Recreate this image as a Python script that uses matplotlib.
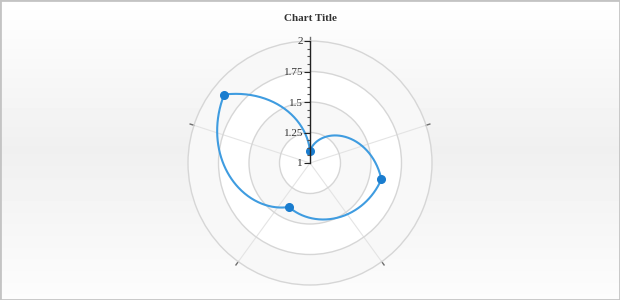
import numpy as np
import matplotlib
matplotlib.use("Agg")
import matplotlib.pyplot as plt
from matplotlib.patches import Rectangle
from matplotlib.ticker import MultipleLocator

# datos de la serie
x_vals = [0, 1, 2, 3]
y_vals = [1.1, 1.6, 1.4, 1.9]
x_max = 3.5                      # una vuelta completa de la escala angular
x_ticks = [0, 0.7, 1.4, 2.1, 2.8]
r_ticks = [1, 1.25, 1.5, 1.75, 2]
r_labels = ['1', '1.25', '1.5', '1.75', '2']
title = 'Chart Title'

plt.rcParams['font.family'] = ['Liberation Serif', 'DejaVu Serif']

W, H = 620, 300
cx, cy, R = 310, 163, 122

fig = plt.figure(figsize=(W / 100, H / 100), dpi=100)

# fondo con degradado y borde
bg = fig.add_axes([0, 0, 1, 1], zorder=-10)
grad = np.interp(np.linspace(0, 1, 300), [0, 0.5, 1], [1.0, 0.94, 0.99])
bg.imshow(grad[:, None], aspect='auto', cmap='gray', vmin=0, vmax=1,
          extent=[0, 1, 0, 1])
bg.add_patch(Rectangle((0, 0), 1, 1, fill=False, edgecolor='#c4c4c4', lw=2,
                       transform=bg.transAxes))
bg.set_xlim(0, 1)
bg.set_ylim(0, 1)
bg.axis('off')

# eje polar
ax = fig.add_axes([(cx - R) / W, (H - cy - R) / H, 2 * R / W, 2 * R / H],
                  projection='polar')
ax.set_theta_zero_location('N')
ax.set_theta_direction(-1)
ax.set_ylim(r_ticks[0], r_ticks[-1])
ax.set_facecolor('white')
ax.set_axisbelow(True)

# bandas alternas
for i, (lo, hi) in enumerate(zip(r_ticks[:-1], r_ticks[1:])):
    ax.bar(0, hi - lo, width=2 * np.pi, bottom=lo,
           color='white' if i % 2 == 0 else '#f8f8f8', edgecolor='none', zorder=0)

theta_ticks = np.array(x_ticks) / x_max * 2 * np.pi
ax.set_xticks(theta_ticks)
ax.set_xticklabels([])
ax.set_yticks(r_ticks[1:-1])
ax.set_yticklabels([])
ax.xaxis.grid(True, color='#e4e4e4', lw=0.8)
ax.yaxis.grid(True, color='#d6d6d6', lw=1)
ax.tick_params(axis='both', length=0)
ax.spines['polar'].set_color('#d6d6d6')
ax.spines['polar'].set_linewidth(1)

# marcas del eje angular, hacia fuera del círculo exterior
tick_len = 4 / R * (r_ticks[-1] - r_ticks[0])
for t in theta_ticks:
    ax.plot([t, t], [r_ticks[-1], r_ticks[-1] + tick_len], color='#6e6e6e',
            lw=1, clip_on=False, zorder=2)

# serie: tramos lineales en coordenadas polares
theta = np.array(x_vals + [x_max]) / x_max * 2 * np.pi
r = np.array(y_vals + [y_vals[0]])
t_fine = np.linspace(0, 2 * np.pi, 721)
ax.plot(t_fine, np.interp(t_fine, theta, r), color='#3f9ce0', lw=1.5, zorder=3)
ax.plot(theta[:-1], y_vals, 'o', color='#1a7dcf', ms=5.5, zorder=4)

# eje radial vertical
rax = fig.add_axes([cx / W, (H - cy) / H, 0.0001, R / H])
rax.set_ylim(r_ticks[0], r_ticks[-1])
rax.patch.set_visible(False)
for s in ['top', 'right', 'bottom']:
    rax.spines[s].set_visible(False)
rax.spines['left'].set_color('#222222')
rax.spines['left'].set_linewidth(1)
rax.set_xticks([])
rax.set_yticks(r_ticks)
rax.set_yticklabels(r_labels)
rax.yaxis.set_minor_locator(MultipleLocator(0.0625))
rax.tick_params(axis='y', which='major', length=4, width=0.8, color='#222222',
                labelsize=8, labelcolor='#333333', pad=1)
rax.tick_params(axis='y', which='minor', length=2.5, width=0.8, color='#555555')

fig.text(0.5, 1 - 18.5 / H, title, ha='center', va='center',
         fontsize=8, fontweight='bold', color='#333333')

fig.savefig('out.png', dpi=100)
